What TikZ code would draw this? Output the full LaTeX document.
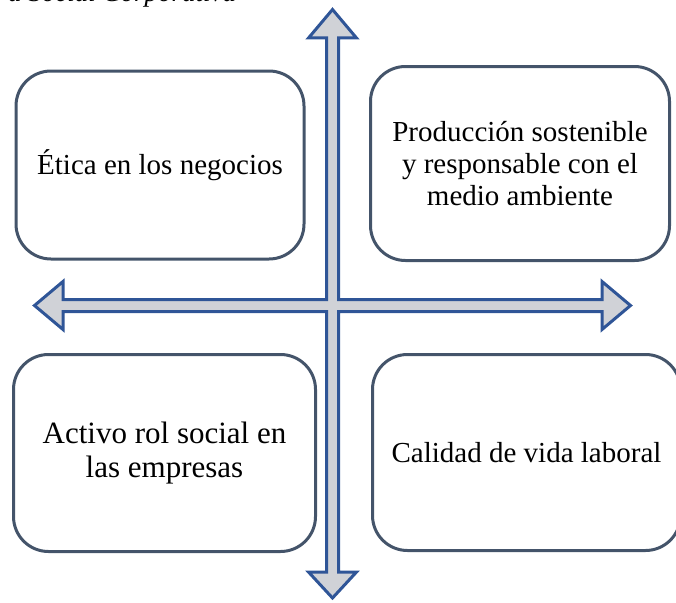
\documentclass[tikz,border=0pt]{standalone}
\usepackage{fontspec}
\setmainfont{Liberation Serif}
\definecolor{boxline}{HTML}{44546A}
\definecolor{arrowline}{HTML}{2F5597}
\definecolor{arrowfill}{HTML}{D0D2D7}

\begin{document}
\begin{tikzpicture}[x=1pt,y=-1pt]
\tikzstyle{quad node}=[rectangle,draw=boxline,line width=3pt,rounded corners=35pt,align=center,inner sep=0,font=\fontsize{29}{32}\selectfont]
\tikzset{
  cross arrow/.style = {draw=arrowline,fill=arrowfill,line width=3pt,line join=miter},
  caption/.style = {font=\itshape\fontsize{27}{30}\selectfont,anchor=base west,inner sep=0}
}
\useasboundingbox (0,0) rectangle (676,602);
\clip (0,0) rectangle (676,602);

    % cut title
    \node[caption] (cap) at (8,1.5) {a Social Corporativa};
    %%%%%%%%%%%%%%%%%%%%%%%%%%%%%%%%%%%
    \draw[cross arrow]
        (332.5,9.5) -- (356.5,38) -- (338.5,38) -- (338.5,299.5)
        -- (602,299.5) -- (602,281.5) -- (630.5,305.5) -- (602,329.5) -- (602,311.5)
        -- (338.5,311.5) -- (338.5,572) -- (356.5,572) -- (332.5,598) -- (308.5,572) -- (326.5,572)
        -- (326.5,311.5) -- (63,311.5) -- (63,329.5) -- (34.5,305.5) -- (63,281.5) -- (63,299.5)
        -- (326.5,299.5) -- (326.5,38) -- (308.5,38) -- cycle;
    %%%%%%%%%%%%%%%%%%%%%%%%%%%%%%%%%%%
    \node[quad node, minimum width=288pt, minimum height=188pt] (etica) at (160,165) {Ética en los negocios};
    \node[quad node, minimum width=299pt, minimum height=194pt] (prod) at (520,163.5) {Producción sostenible\\y responsable con el\\medio ambiente};
    \node[quad node, minimum width=302pt, minimum height=197pt, font=\fontsize{31}{34}\selectfont] (rol) at (164.5,453) {Activo rol social en\\las empresas};
    \node[quad node, minimum width=308pt, minimum height=196pt] (vida) at (526.5,452.5) {Calidad de vida laboral};
\end{tikzpicture}
\end{document}
